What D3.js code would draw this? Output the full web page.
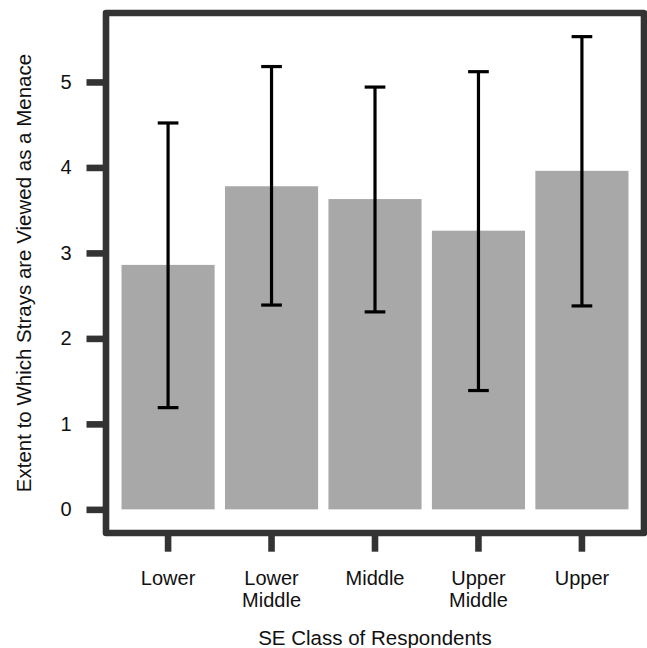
<!DOCTYPE html>
<html lang="en">
<head>
<meta charset="utf-8">
<script src="https://d3js.org/d3.v7.min.js"></script>
<style>
  body { margin: 0; background: #fff; }
  text { font-family: "Liberation Sans", Arial, Helvetica, sans-serif; }
</style>
</head>
<body>
<script>
// data
const categories = ["Lower", "Lower\nMiddle", "Middle", "Upper\nMiddle", "Upper"];
const means  = [2.86, 3.78, 3.63, 3.26, 3.96];
const lowers = [1.19, 2.39, 2.31, 1.39, 2.38];
const uppers = [4.52, 5.18, 4.94, 5.12, 5.53];
const yTicks = [0, 1, 2, 3, 4, 5];
const xTitle = "SE Class of Respondents";
const yTitle = "Extent to Which Strays are Viewed as a Menace";

const W = 647, H = 648;
const panel = {left: 106, top: 13, right: 644, bottom: 533};
const axisCol = "#333333";

const rows = categories.map((c, i) => ({cat: c, mean: means[i], lo: lowers[i], hi: uppers[i]}));

const svg = d3.select("body").append("svg")
  .attr("width", W).attr("height", H);

// y scale with ggplot style 5% expansion
const yMax = d3.max(uppers);
const y = d3.scaleLinear()
  .domain([0 - yMax * 0.05, yMax * 1.05])
  .range([panel.bottom, panel.top]);

const unit = (panel.right - panel.left) / 5.2;
const x = d3.scaleBand()
  .domain(categories)
  .range([panel.left + 0.1 * unit, panel.right - 0.1 * unit])
  .paddingInner(0.1)
  .paddingOuter(0.05);

// bars
svg.append("g").selectAll("rect")
  .data(rows)
  .enter().append("rect")
  .attr("x", d => x(d.cat))
  .attr("width", x.bandwidth())
  .attr("y", d => y(d.mean))
  .attr("height", d => y(0) - y(d.mean))
  .attr("fill", "#a8a8a8");

// error bars
const capW = unit * 0.2;
const eb = svg.append("g").attr("stroke", "#000").attr("stroke-width", 3.2).attr("fill", "none");
const ebg = eb.selectAll("g").data(rows).enter().append("g")
  .attr("transform", d => "translate(" + (x(d.cat) + x.bandwidth() / 2) + ",0)");
ebg.append("line").attr("x1", 0).attr("x2", 0)
  .attr("y1", d => y(d.lo)).attr("y2", d => y(d.hi));
ebg.append("line").attr("x1", -capW / 2).attr("x2", capW / 2)
  .attr("y1", d => y(d.hi)).attr("y2", d => y(d.hi));
ebg.append("line").attr("x1", -capW / 2).attr("x2", capW / 2)
  .attr("y1", d => y(d.lo)).attr("y2", d => y(d.lo));

// panel border
svg.append("rect")
  .attr("x", panel.left).attr("y", panel.top)
  .attr("width", panel.right - panel.left)
  .attr("height", panel.bottom - panel.top)
  .attr("fill", "none")
  .attr("stroke", axisCol)
  .attr("stroke-width", 6.6)
  .attr("stroke-linejoin", "round");

// y axis
const yAxis = svg.append("g")
  .attr("transform", "translate(" + panel.left + ",0)")
  .call(d3.axisLeft(y).tickValues(yTicks).tickSize(19.5).tickPadding(15).tickFormat(d3.format("d")));
yAxis.select(".domain").remove();
yAxis.selectAll(".tick line").attr("stroke", axisCol).attr("stroke-width", 6.6);
yAxis.selectAll(".tick text")
  .attr("fill", "#111")
  .style("font-size", "20px")
  .style("font-family", "'Liberation Sans', Arial, sans-serif");

// x axis
const xAxis = svg.append("g")
  .attr("transform", "translate(0," + panel.bottom + ")")
  .call(d3.axisBottom(x).tickSize(18.7).tickPadding(19));
xAxis.select(".domain").remove();
xAxis.selectAll(".tick line").attr("stroke", axisCol).attr("stroke-width", 6.6);
xAxis.selectAll(".tick text")
  .attr("fill", "#111")
  .style("font-size", "20px")
  .style("font-family", "'Liberation Sans', Arial, sans-serif")
  .each(function(d) {
    const t = d3.select(this);
    const yy = t.attr("y");
    t.text(null);
    d.split("\n").forEach((line, i) => {
      t.append("tspan").attr("x", 0).attr("y", yy)
        .attr("dy", (0.71 * 20 + i * 22.3) + "px")
        .text(line);
    });
  })
  .attr("dy", null);

// axis titles
svg.append("text")
  .attr("x", (panel.left + panel.right) / 2)
  .attr("y", 645)
  .attr("text-anchor", "middle")
  .style("font-size", "20.5px")
  .attr("fill", "#111")
  .text(xTitle);

svg.append("text")
  .attr("transform", "translate(31," + ((panel.top + panel.bottom) / 2) + ") rotate(-90)")
  .attr("text-anchor", "middle")
  .style("font-size", "20.5px")
  .attr("fill", "#111")
  .text(yTitle);
</script>
</body>
</html>
